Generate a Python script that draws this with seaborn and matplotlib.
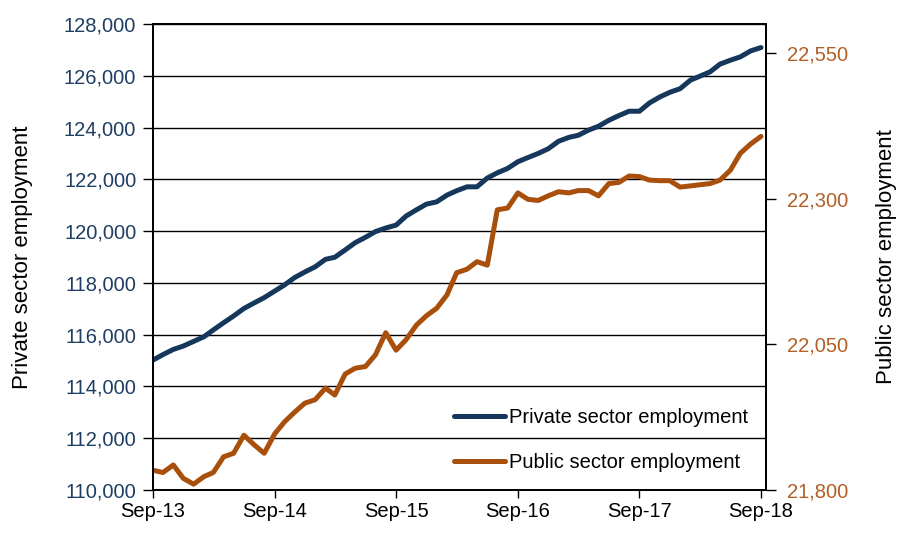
import matplotlib
matplotlib.use("Agg")
import matplotlib.pyplot as plt
import matplotlib.ticker as mticker
import seaborn as sns
import pandas as pd
import numpy as np

# monthly, Sep-13 .. Sep-18
months = pd.date_range("2013-09-01", periods=61, freq="MS")

private = [115020, 115230, 115430, 115560, 115740, 115920, 116180, 116460, 116720, 117010,
           117220, 117430, 117680, 117920, 118210, 118420, 118620, 118910, 118990, 119270,
           119550, 119760, 119980, 120120, 120230, 120580, 120820, 121040, 121130, 121390,
           121560, 121710, 121710, 122050, 122250, 122420, 122680, 122840, 123000, 123180,
           123470, 123620, 123700, 123900, 124050, 124280, 124460, 124630, 124630, 124950,
           125180, 125360, 125500, 125830, 125980, 126150, 126450, 126600, 126730, 126960,
           127090]

public = [21834, 21830, 21843, 21820, 21810, 21823, 21830, 21857, 21863, 21894,
          21878, 21863, 21896, 21917, 21934, 21949, 21955, 21975, 21963, 21999,
          22009, 22012, 22032, 22070, 22040, 22058, 22083, 22099, 22112, 22135,
          22173, 22179, 22192, 22186, 22281, 22284, 22310, 22299, 22297, 22305,
          22312, 22310, 22314, 22314, 22305, 22326, 22328, 22339, 22338, 22332,
          22331, 22331, 22320, 22322, 22324, 22326, 22332, 22349, 22378, 22394,
          22407]

left_ticks = list(range(110000, 128001, 2000))
right_ticks = [21800, 22050, 22300, 22550]
x_tick_labels = ["Sep-13", "Sep-14", "Sep-15", "Sep-16", "Sep-17", "Sep-18"]

navy = "#16375C"
orange = "#A84F0C"

sns.set_style("white")
plt.rcParams["font.family"] = ["Liberation Sans Narrow", "Liberation Sans", "DejaVu Sans"]
plt.rcParams["text.color"] = "black"
plt.rcParams["axes.labelcolor"] = "black"

fig = plt.figure(figsize=(9.08, 5.34), dpi=100)
ax = fig.add_axes([0.1685, 0.0824, 0.6751, 0.8727])
ax2 = ax.twinx()

df = pd.DataFrame({"month": months, "private": private, "public": public})
sns.lineplot(data=df, x="month", y="private", ax=ax, color=navy, lw=3.6,
             label="Private sector employment", legend=False)
sns.lineplot(data=df, x="month", y="public", ax=ax2, color=orange, lw=3.6,
             label="Public sector employment", legend=False)

ax.set_ylim(110000, 128000)
ax.set_yticks(left_ticks)
ax.yaxis.set_major_formatter(mticker.StrMethodFormatter("{x:,.0f}"))
ax2.set_ylim(21800, 22600)
ax2.set_yticks(right_ticks)
ax2.yaxis.set_major_formatter(mticker.StrMethodFormatter("{x:,.0f}"))

xt = pd.date_range("2013-09-01", periods=6, freq="12MS")
ax.set_xlim(months[0], months[-1] + pd.Timedelta(days=15))
ax.set_xticks(xt)
ax.set_xticklabels(x_tick_labels)

ax.grid(axis="y", color="black", lw=1)
ax.grid(axis="x", visible=False)
ax2.grid(False)
ax.set_axisbelow(True)

for a in (ax, ax2):
    for s in a.spines.values():
        s.set_color("black")
        s.set_linewidth(1.3)

ax.tick_params(axis="y", direction="out", length=7, width=1, colors="black",
               labelcolor="#1F3E63", labelsize=14.5, pad=5, left=True)
ax.tick_params(axis="x", direction="out", length=6, width=1, colors="black",
               labelcolor="black", labelsize=14.5, pad=3, bottom=True)
ax2.tick_params(axis="y", direction="out", length=7, width=1, colors="black",
                labelcolor="#B35F25", labelsize=14.5, pad=8, right=True)

ax.set_xlabel("")
ax.set_ylabel("Private sector employment", fontsize=16, labelpad=22, color="black")
ax2.set_ylabel("Public sector employment", fontsize=16, labelpad=20, color="black")

h1, l1 = ax.get_legend_handles_labels()
h2, l2 = ax2.get_legend_handles_labels()
leg = ax2.legend(h1 + h2, l1 + l2, loc="lower right", frameon=False, fontsize=14.5,
                 handlelength=2.5, handletextpad=0.2, labelspacing=1.3,
                 bbox_to_anchor=(1.0, 0.0))
for t in leg.get_texts():
    t.set_color("black")

fig.savefig("out.png", dpi=100)
